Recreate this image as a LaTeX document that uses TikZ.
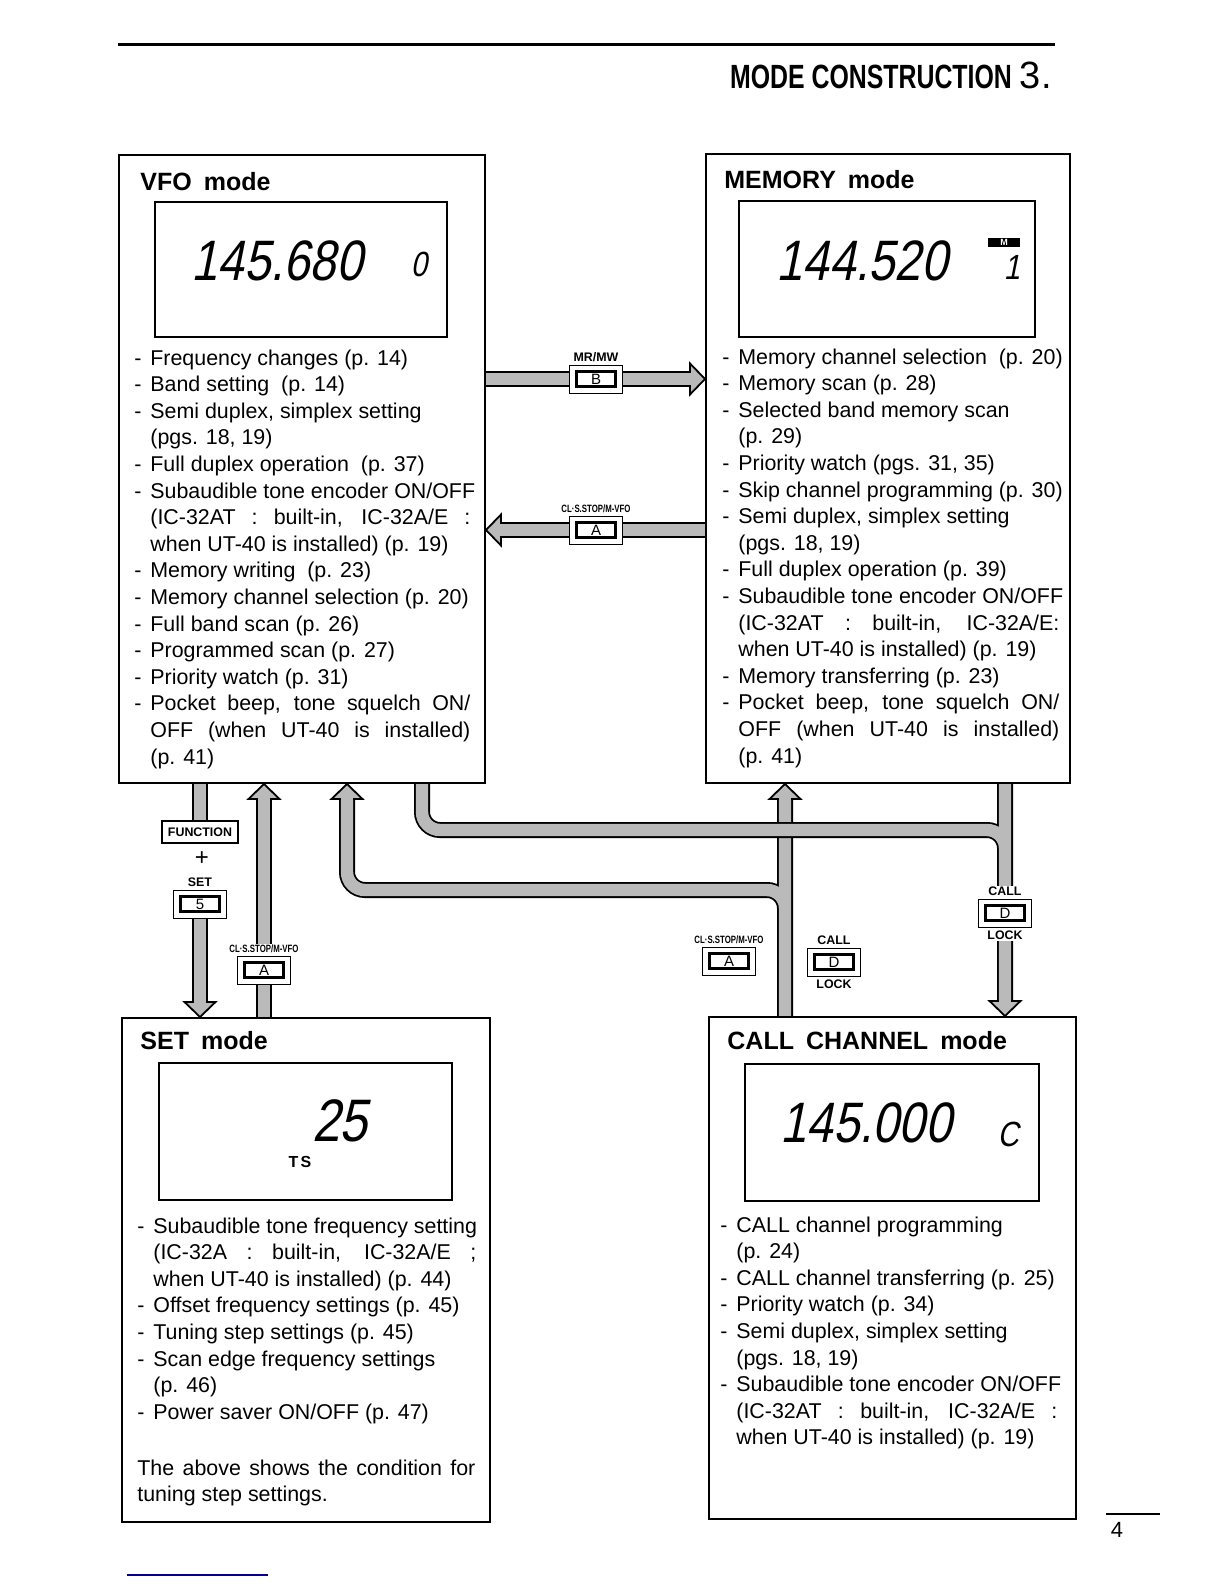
\documentclass[tikz,border=0pt]{standalone}
\usepackage{fontspec}
\setmainfont{Liberation Sans}
\newfontfamily\condfont[FakeStretch=0.74]{Liberation Sans}
\newfontfamily\lcdfont[FakeStretch=0.83,FakeSlant=0.2]{Liberation Sans}
\usetikzlibrary{positioning, calc, backgrounds}

\colorlet{pipefill}{black!27}
\newcommand{\itm}{\strut\makebox[8pt][l]{-}}
\newcommand{\cnt}{\strut\hspace*{8pt}}
\newcommand{\jl}[2]{\makebox[#1][s]{#2}}
\newcommand{\pipeline}[1]{\draw[pipeedge] #1; \draw[pipecore] #1;}

\tikzset{
  modebox/.style={draw, line width=1pt, anchor=north west, inner sep=0pt},
  lcdbox/.style={draw, line width=0.8pt, anchor=north west, inner sep=0pt},
  modetitle/.style={anchor=base west, inner sep=0pt, font=\bfseries\fontsize{12.5}{15}\selectfont},
  itemlist/.style={anchor=north west, inner sep=0pt, align=left, font=\fontsize{10.7}{13.3}\selectfont},
  lcdbig/.style={inner sep=0pt, font=\lcdfont\fontsize{28.5}{28.5}\selectfont},
  lcdsmall/.style={inner sep=0pt, font=\lcdfont\fontsize{17.5}{17.5}\selectfont},
  keyout/.style={draw, line width=0.5pt, minimum width=26.5pt, minimum height=14pt, inner sep=0pt},
  keyin/.style={draw, line width=1.1pt, minimum width=19.5pt, minimum height=7.5pt, inner sep=0pt, font=\fontsize{7.5}{7.5}\selectfont},
  keylbl/.style={inner sep=0.5pt, font=\bfseries\fontsize{6.2}{6.2}\selectfont},
  keytag/.style={inner sep=0.5pt, font=\condfont\bfseries\fontsize{5.3}{5.3}\selectfont},
  pipeedge/.style={draw=black, line width=8pt, rounded corners=9pt},
  pipecore/.style={draw=pipefill, line width=6.2pt, rounded corners=9pt},
  bighead/.pic={
    \fill[pipefill] (-7.6pt,7.75pt) -- (0,0) -- (-7.6pt,-7.75pt) -- cycle;
    \draw[line width=0.9pt, line join=miter] (-7.5pt,3.1pt) -- (-7.5pt,7.75pt) -- (0,0) -- (-7.5pt,-7.75pt) -- (-7.5pt,-3.1pt);
  }
}

\begin{document}
\begin{tikzpicture}[x=0.5pt, y=-0.5pt]
\useasboundingbox (0,0) rectangle (1224,1584);

% Page header
\draw[line width=1.5pt] (118,45) -- (1055,45);
\node[anchor=base east, inner sep=0pt] (pagetitle) at (1052,89) {{\condfont\bfseries\fontsize{16.8}{18}\selectfont MODE CONSTRUCTION}\hspace{4pt}{\fontsize{19}{19}\selectfont 3.}};

% VFO mode
\node[modebox, minimum width=183pt, minimum height=314pt] (vfo) at (118,154) {};
\node[modetitle] (vfotitle) at (140,191) {VFO\hspace{6pt}mode};
\node[lcdbox, minimum width=146pt, minimum height=67.5pt] (vfolcd) at (154,201) {};
\node[lcdbig] (vfofreq) at (277,261) {145.680};
\node[lcdsmall] (vfoch) at (419,264) {0};
\node[itemlist] (vfolist) at (134,346) {\itm Frequency changes (p. 14)\\
\itm Band setting\ \ (p. 14)\\
\itm Semi duplex, simplex setting\\
\cnt (pgs. 18, 19)\\
\itm Full duplex operation\ \ (p. 37)\\
\itm Subaudible tone encoder ON/OFF\\
\cnt\jl{160pt}{(IC-32AT : built-in, IC-32A/E :}\\
\cnt when UT-40 is installed) (p. 19)\\
\itm Memory writing\ \ (p. 23)\\
\itm Memory channel selection (p. 20)\\
\itm Full band scan (p. 26)\\
\itm Programmed scan (p. 27)\\
\itm Priority watch (p. 31)\\
\itm\jl{160pt}{Pocket beep, tone squelch ON/}\\
\cnt\jl{160pt}{OFF (when UT-40 is installed)}\\
\cnt (p. 41)};

% MEMORY mode
\node[modebox, minimum width=182pt, minimum height=314.5pt] (memory) at (705,153) {};
\node[modetitle] (memtitle) at (724,188) {MEMORY\hspace{6pt}mode};
\node[lcdbox, minimum width=148pt, minimum height=68pt] (memlcd) at (738,200) {};
\node[lcdbig] (memfreq) at (862,261) {144.520};
\node[fill=black, text=white, inner sep=0pt, minimum width=16pt, minimum height=4.5pt, font=\bfseries\fontsize{4.5}{4.5}\selectfont] (memtag) at (1004,242.5) {M};
\node[lcdsmall] (memch) at (1012,267) {1};
\node[itemlist] (memlist) at (722,345) {\itm Memory channel selection\ \ (p. 20)\\
\itm Memory scan (p. 28)\\
\itm Selected band memory scan\\
\cnt (p. 29)\\
\itm Priority watch (pgs. 31, 35)\\
\itm Skip channel programming (p. 30)\\
\itm Semi duplex, simplex setting\\
\cnt (pgs. 18, 19)\\
\itm Full duplex operation (p. 39)\\
\itm Subaudible tone encoder ON/OFF\\
\cnt\jl{160.5pt}{(IC-32AT : built-in, IC-32A/E:}\\
\cnt when UT-40 is installed) (p. 19)\\
\itm Memory transferring (p. 23)\\
\itm\jl{160.5pt}{Pocket beep, tone squelch ON/}\\
\cnt\jl{160.5pt}{OFF (when UT-40 is installed)}\\
\cnt (p. 41)};

% SET mode
\node[modebox, minimum width=184pt, minimum height=252pt] (setbox) at (121,1017) {};
\node[modetitle] (settitle) at (140,1049) {SET\hspace{6pt}mode};
\node[lcdbox, minimum width=146.5pt, minimum height=68.5pt] (setlcd) at (158,1062) {};
\node[lcdbig, font=\lcdfont\fontsize{30}{30}\selectfont] (setstep) at (340,1121) {25};
\node[inner sep=0pt, font=\bfseries\fontsize{8}{8}\selectfont] (setts) at (300,1162) {T\hspace{1.2pt}S};
\node[itemlist] (setlist) at (137,1214) {\itm Subaudible tone frequency setting\\
\cnt\jl{161.5pt}{(IC-32A : built-in, IC-32A/E ;}\\
\cnt when UT-40 is installed) (p. 44)\\
\itm Offset frequency settings (p. 45)\\
\itm Tuning step settings (p. 45)\\
\itm Scan edge frequency settings\\
\cnt (p. 46)\\
\itm Power saver ON/OFF (p. 47)};
\node[itemlist] (setnote) at (137,1456) {\strut\jl{169pt}{The above shows the condition for}\\
\strut tuning step settings.};

% CALL CHANNEL mode
\node[modebox, minimum width=183.5pt, minimum height=251pt] (callbox) at (708,1016) {};
\node[modetitle] (calltitle) at (727,1049) {CALL\hspace{6pt}CHANNEL\hspace{6pt}mode};
\node[lcdbox, minimum width=147pt, minimum height=68.5pt] (calllcd) at (744,1063) {};
\node[lcdbig] (callfreq) at (866,1123) {145.000};
\node[lcdsmall] (callch) at (1008,1134) {C};
\node[itemlist] (calllist) at (720,1213) {\itm CALL channel programming\\
\cnt (p. 24)\\
\itm CALL channel transferring (p. 25)\\
\itm Priority watch (p. 34)\\
\itm Semi duplex, simplex setting\\
\cnt (pgs. 18, 19)\\
\itm Subaudible tone encoder ON/OFF\\
\cnt\jl{160.5pt}{(IC-32AT : built-in, IC-32A/E :}\\
\cnt when UT-40 is installed) (p. 19)};

% Keys between VFO and MEMORY
\node[keyout] (mrkey) at (596,379) {};
\node[keyin] (mrkeyin) at (mrkey) {B};
\node[keylbl, above=0.5pt of mrkey] (mrlbl) {MR/MW};
\node[keyout] (backkey) at (596,530) {};
\node[keyin] (backkeyin) at (backkey) {A};
\node[keytag, above=0.5pt of backkey] (backlbl) {CL·S.STOP/M-VFO};

% Keys between VFO and SET
\node[draw, line width=0.6pt, minimum width=38pt, minimum height=11pt, inner sep=0pt, font=\bfseries\fontsize{6.2}{6.2}\selectfont] (fnbox) at (200,832) {FUNCTION};
\node[inner sep=0pt, font=\fontsize{12}{12}\selectfont] (fnplus) at (202,859) {+};
\node[keyout] (setkey) at (200,904) {};
\node[keyin] (setkeyin) at (setkey) {5};
\node[keylbl, above=0.5pt of setkey] (setlbl) {SET};
\node[keyout] (exitkey) at (264,970) {};
\node[keyin] (exitkeyin) at (exitkey) {A};
\node[keytag, above=0.5pt of exitkey] (exitlbl) {CL·S.STOP/M-VFO};

% Keys to and from CALL CHANNEL
\node[keyout] (mvfokey) at (729,961) {};
\node[keyin] (mvfokeyin) at (mvfokey) {A};
\node[keytag, above=0.5pt of mvfokey] (mvfolbl) {CL·S.STOP/M-VFO};
\node[keyout] (lockkey) at (834,962) {};
\node[keyin] (lockkeyin) at (lockkey) {D};
\node[keylbl, above=0.5pt of lockkey] (lockcall) {CALL};
\node[keylbl, below=1pt of lockkey] (locklock) {LOCK};
\node[keyout] (callkey) at (1005,913) {};
\node[keyin] (callkeyin) at (callkey) {D};
\node[keylbl, above=0.5pt of callkey] (callcall) {CALL};
\node[keylbl, below=1pt of callkey] (calllock) {LOCK};

% Bends of the routed pipes
\coordinate (lowbend) at (347,890);
\coordinate (midcol) at (785,890);
\coordinate (upbend) at (422,830);
\coordinate (rightcol) at (1005,830);

% Page number
\node[inner sep=0pt, font=\fontsize{11}{11}\selectfont] (pagenum) at (1117,1530) {4};
\draw[line width=0.6pt] (1106,1514) -- (1160,1514);
\draw[line width=0.8pt, blue!60!black] (127,1575) -- (268,1575);

\begin{scope}[on background layer]
\fill[white] (0,0) rectangle (1224,1584);
% VFO -> MEMORY
\pipeline{(vfo.east |- mrkey) -- (mrkey.west) (mrkey.east) -- ($(memory.west |- mrkey)+(-12,0)$)}
\pic at (memory.west |- mrkey) {bighead};
% MEMORY -> VFO
\pipeline{(memory.west |- backkey) -- (backkey.east) (backkey.west) -- ($(vfo.east |- backkey)+(12,0)$)}
\pic[rotate=180] at (vfo.east |- backkey) {bighead};
% VFO -> SET
\pipeline{(vfo.south -| fnbox) -- (fnbox.north) (setkey.south) -- ($(setbox.north -| setkey)+(0,-12)$)}
\pic[rotate=-90] at (setbox.north -| setkey) {bighead};
% SET -> VFO
\pipeline{(setbox.north -| exitkey) -- (exitkey.south) (exitlbl.north) -- ($(vfo.south -| exitkey)+(0,12)$)}
\pic[rotate=90] at (vfo.south -| exitkey) {bighead};
% CALL -> VFO and MEMORY
\pipeline{($(vfo.south -| lowbend)+(0,12)$) -- (lowbend) -- (midcol) -- (callbox.north -| midcol) ($(memory.south -| midcol)+(0,12)$) -- (callbox.north -| midcol)}
\pic[rotate=90] at (vfo.south -| lowbend) {bighead};
\pic[rotate=90] at (memory.south -| midcol) {bighead};
% VFO and MEMORY -> CALL
\pipeline{(vfo.south -| upbend) -- (upbend) -- (rightcol) -- (callcall.north -| rightcol) (memory.south -| rightcol) -- (callcall.north -| rightcol) (calllock.south -| rightcol) -- ($(callbox.north -| rightcol)+(0,-12)$)}
\pic[rotate=-90] at (callbox.north -| rightcol) {bighead};
\end{scope}
\end{tikzpicture}
\end{document}
